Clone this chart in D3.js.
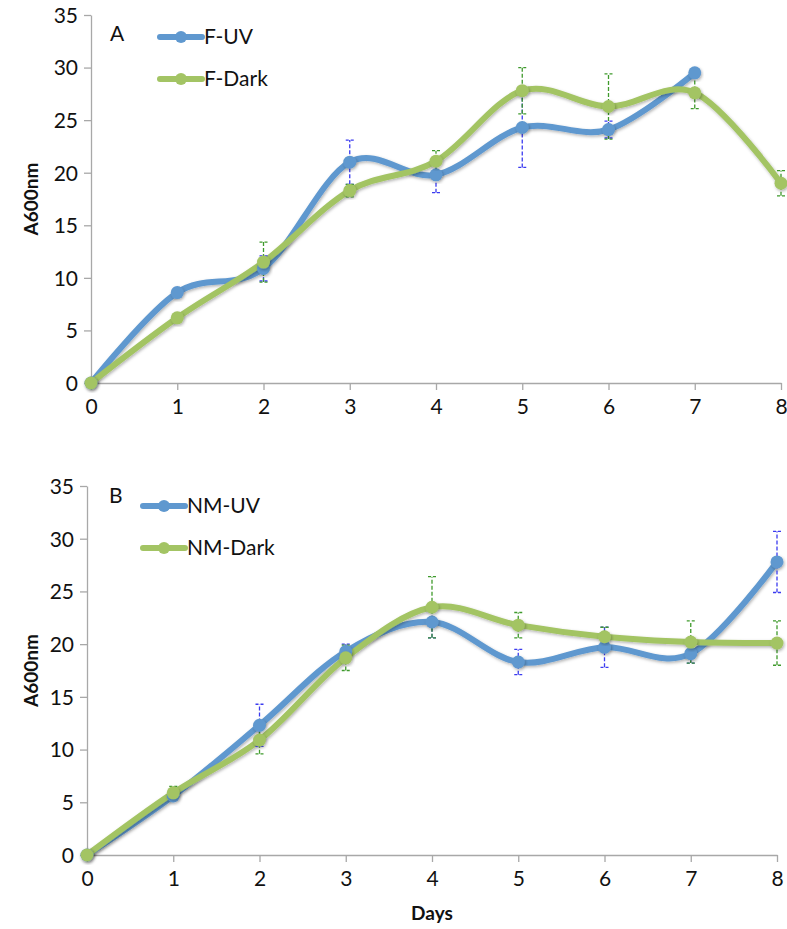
<!DOCTYPE html>
<html lang="en">
    <head>
        <meta charset="utf-8">
        <title>A600nm</title>
        <style>
            body { margin: 0; background: white; }
            svg { display: block; }
            .tick text { font-family: Lato, "Open Sans", sans-serif; font-size: 21px; fill: #111; }
            .axis path, .axis line { stroke: #a8a8a8; stroke-width: 1.3; }
            .title { font-family: Lato, "Open Sans", sans-serif; font-weight: bold; font-size: 19px; fill: #111; }
            .lbl { font-family: Lato, "Open Sans", sans-serif; font-size: 21px; fill: #111; }
        </style>
    </head>
    <body>
        <svg width="787" height="929"></svg>
        <script src="https://d3js.org/d3.v7.min.js"></script>
        <script>
            var days = [0, 1, 2, 3, 4, 5, 6, 7, 8];
            var yTicks = [0, 5, 10, 15, 20, 25, 30, 35];

            // panel A
            var fUV = [0, 8.6, 10.9, 21.0, 19.8, 24.3, 24.1, 29.5, null];
            var fUVErr = [0.2, 0.4, 1.2, 2.1, 1.7, 3.8, 0.8, 0.4, null];
            var fDark = [0, 6.2, 11.5, 18.3, 21.1, 27.8, 26.3, 27.6, 19.0];
            var fDarkErr = [0.1, 0.2, 1.9, 0.6, 1.0, 2.2, 3.1, 1.5, 1.2];

            // panel B
            var nmUV = [0, 5.6, 12.3, 19.3, 22.1, 18.3, 19.7, 19.1, 27.8];
            var nmUVErr = [0.1, 0.4, 2.0, 0.7, 1.5, 1.2, 1.9, 0.9, 2.9];
            var nmDark = [0, 5.9, 10.9, 18.7, 23.5, 21.8, 20.7, 20.2, 20.1];
            var nmDarkErr = [0.1, 0.6, 1.3, 1.2, 2.9, 1.2, 0.9, 2.0, 2.1];

            var blue = "#5f98cf", green = "#a3c464";
            var blueErr = "#3b3bf0", greenErr = "#3f9a2c";

            var svg = d3.select("svg");

            var defs = svg.append("defs");
            defs.append("filter").attr("id", "shadow")
                .attr("x", "-20%").attr("y", "-20%").attr("width", "140%").attr("height", "140%")
              .append("feDropShadow")
                .attr("dx", 1).attr("dy", 1.5).attr("stdDeviation", 1.5)
                .attr("flood-color", "#000").attr("flood-opacity", 0.3);

            var panels = [
                {letter: "A", x0: 91, x1: 781, y0: 383, y1: 15,
                 series: [
                    {name: "F-UV", vals: fUV, err: fUVErr, color: blue, ec: blueErr},
                    {name: "F-Dark", vals: fDark, err: fDarkErr, color: green, ec: greenErr}],
                 legendX: 160, legendY: 37, letterX: 110, letterY: 41, xTitle: false},
                {letter: "B", x0: 87, x1: 777, y0: 855, y1: 486,
                 series: [
                    {name: "NM-UV", vals: nmUV, err: nmUVErr, color: blue, ec: blueErr},
                    {name: "NM-Dark", vals: nmDark, err: nmDarkErr, color: green, ec: greenErr}],
                 legendX: 143, legendY: 506, letterX: 109, letterY: 503, xTitle: true}
            ];

            panels.forEach(function(p) {
                var x = d3.scaleLinear().domain([0, 8]).range([p.x0, p.x1]);
                var y = d3.scaleLinear().domain([0, 35]).range([p.y0, p.y1]);
                var g = svg.append("g");

                g.append("g").attr("class", "axis")
                    .attr("transform", "translate(" + p.x0 + ",0)")
                    .call(d3.axisLeft(y).tickValues(yTicks).tickSize(7).tickSizeOuter(0).tickPadding(6))
                    .selectAll("text").attr("dy", "0.35em");

                g.append("g").attr("class", "axis")
                    .attr("transform", "translate(0," + p.y0 + ")")
                    .call(d3.axisBottom(x).tickValues(days).tickSize(7).tickSizeOuter(0).tickPadding(9));

                g.append("text").attr("class", "title")
                    .attr("transform", "translate(38," + ((p.y0 + p.y1) / 2) + ") rotate(-90)")
                    .attr("text-anchor", "middle")
                    .text("A600nm");

                if (p.xTitle) {
                    g.append("text").attr("class", "title")
                        .attr("x", x(4)).attr("y", p.y0 + 65)
                        .attr("text-anchor", "middle")
                        .text("Days");
                }

                g.append("text").attr("class", "lbl")
                    .attr("x", p.letterX).attr("y", p.letterY)
                    .text(p.letter);

                var line = d3.line()
                    .defined(function(d) { return d.v != null; })
                    .x(function(d) { return x(d.day); })
                    .y(function(d) { return y(d.v); })
                    .curve(d3.curveCardinal.tension(0));

                p.series.forEach(function(s) {
                    var pts = days.map(function(d, i) { return {day: d, v: s.vals[i], e: s.err[i]}; })
                        .filter(function(d) { return d.v != null; });
                    s.pts = pts;
                    g.append("path")
                        .datum(pts)
                        .attr("d", line)
                        .attr("fill", "none")
                        .attr("stroke", s.color)
                        .attr("stroke-width", 6)
                        .attr("stroke-linecap", "round")
                        .attr("filter", "url(#shadow)");
                });

                p.series.forEach(function(s) {
                    var eb = g.append("g").selectAll("g").data(s.pts).enter().append("g")
                        .attr("stroke", s.ec).attr("stroke-width", 1.3);
                    eb.append("line")
                        .attr("x1", function(d) { return x(d.day); })
                        .attr("x2", function(d) { return x(d.day); })
                        .attr("y1", function(d) { return y(d.v - d.e); })
                        .attr("y2", function(d) { return y(d.v + d.e); })
                        .attr("stroke-dasharray", "4,2");
                    [-1, 1].forEach(function(sgn) {
                        eb.append("line")
                            .attr("x1", function(d) { return x(d.day) - 4; })
                            .attr("x2", function(d) { return x(d.day) + 4; })
                            .attr("y1", function(d) { return y(d.v + sgn * d.e); })
                            .attr("y2", function(d) { return y(d.v + sgn * d.e); })
                            .attr("stroke-dasharray", "3,2");
                    });
                });

                p.series.forEach(function(s) {
                    g.append("g").selectAll("circle").data(s.pts).enter().append("circle")
                        .attr("cx", function(d) { return x(d.day); })
                        .attr("cy", function(d) { return y(d.v); })
                        .attr("r", 6.5)
                        .attr("fill", s.color)
                        .attr("filter", "url(#shadow)");
                });

                // legend
                p.series.forEach(function(s, i) {
                    var ly = p.legendY + i * 42;
                    var lg = g.append("g");
                    lg.append("line")
                        .attr("x1", p.legendX).attr("x2", p.legendX + 42)
                        .attr("y1", ly).attr("y2", ly)
                        .attr("stroke", s.color).attr("stroke-width", 6)
                        .attr("stroke-linecap", "round");
                    lg.append("circle")
                        .attr("cx", p.legendX + 21).attr("cy", ly).attr("r", 6)
                        .attr("fill", s.color);
                    lg.append("text").attr("class", "lbl")
                        .attr("x", p.legendX + 44).attr("y", ly)
                        .attr("dy", "0.35em")
                        .text(s.name);
                });
            });
        </script>
    </body>
</html>
